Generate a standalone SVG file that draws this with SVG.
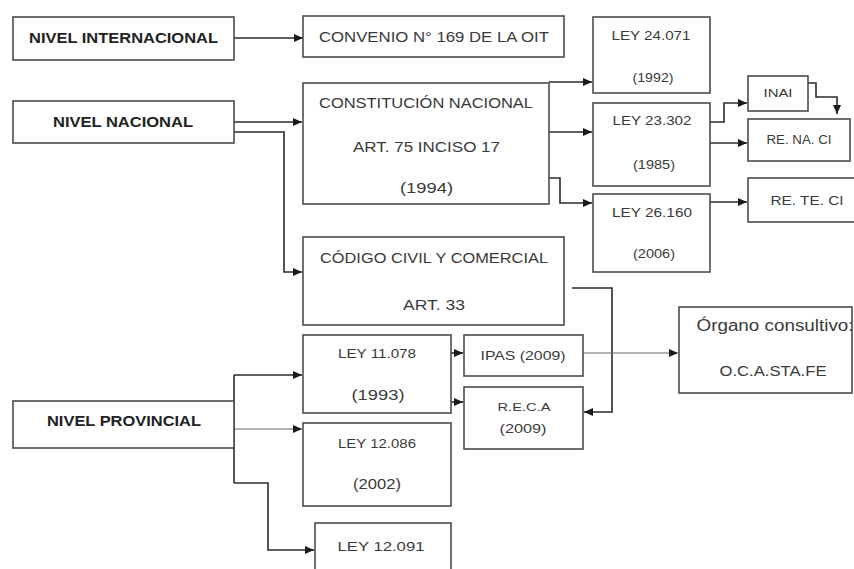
<svg xmlns="http://www.w3.org/2000/svg" width="854" height="569" viewBox="0 0 854 569">
<style>
.box{fill:#fff;stroke:#4d4d4d;stroke-width:1.6}
.t{font-family:"Liberation Sans",Arial,sans-serif;fill:#3a3a3a;text-anchor:middle;font-size:15px}
.b{font-weight:bold;fill:#222}
.s13{font-size:13px}
.c{fill:none;stroke:#2b2b2b;stroke-width:1.6}
.thin{fill:none;stroke:#666;stroke-width:1}
</style>
<defs>
<marker id="a" markerUnits="userSpaceOnUse" markerWidth="10" markerHeight="10" refX="9" refY="5" orient="auto">
<path d="M0,1 L9,5 L0,9 Z" fill="#1a1a1a"/>
</marker>
</defs>
<rect width="854" height="569" fill="#fff"/>
<g id="connectors">
<path class="c" d="M234 38 H303" marker-end="url(#a)"/>
<path class="c" d="M234 122 H302" marker-end="url(#a)"/>
<path class="c" d="M234 132 H284 V272 H302" marker-end="url(#a)"/>
<path class="c" d="M549 82 H592" marker-end="url(#a)"/>
<path class="c" d="M549 132 H592" marker-end="url(#a)"/>
<path class="c" d="M549 178 H560 V203 H592" marker-end="url(#a)"/>
<path class="c" d="M710 122 H724 V103 H747" marker-end="url(#a)"/>
<path class="c" d="M710 143 H747" marker-end="url(#a)"/>
<path class="c" d="M808 83 H816 V97 H837 V114" marker-end="url(#a)"/>
<path class="c" d="M710 202 H747" marker-end="url(#a)"/>
<path class="c" d="M572 288 H612 V412 H584" marker-end="url(#a)"/>
<path class="thin" d="M583 353 H678" marker-end="url(#a)"/>
<path class="c" d="M451 353 H463" marker-end="url(#a)"/>
<path class="c" d="M451 402 H463" marker-end="url(#a)"/>
<path class="c" d="M234 375 H302" marker-end="url(#a)"/>
<path class="c" d="M234 375 V483"/>
<path class="thin" d="M234 429 H302" marker-end="url(#a)"/>
<path class="c" d="M234 483 H268 V550 H314" marker-end="url(#a)"/>
</g>
<g id="nivel-internacional"><rect class="box" x="13" y="17" width="221" height="43"/><text class="t b" x="123.5" y="43" textLength="189" lengthAdjust="spacingAndGlyphs">NIVEL INTERNACIONAL</text></g>
<g id="convenio"><rect class="box" x="303" y="16" width="261" height="41"/><text class="t" x="434" y="42" textLength="230" lengthAdjust="spacingAndGlyphs">CONVENIO N° 169 DE LA OIT</text></g>
<g id="nivel-nacional"><rect class="box" x="13" y="101" width="221" height="42"/><text class="t b" x="123" y="127" textLength="140" lengthAdjust="spacingAndGlyphs">NIVEL NACIONAL</text></g>
<g id="constitucion"><rect class="box" x="303" y="83" width="246" height="121"/>
<text class="t" x="426" y="108" textLength="214" lengthAdjust="spacingAndGlyphs">CONSTITUCIÓN NACIONAL</text>
<text class="t" x="426.5" y="152" textLength="147" lengthAdjust="spacingAndGlyphs">ART. 75 INCISO 17</text>
<text class="t" x="426.5" y="193" textLength="53" lengthAdjust="spacingAndGlyphs">(1994)</text></g>
<g id="ley24071"><rect class="box" x="593" y="17" width="117" height="76"/><text class="t s13" x="651" y="40" textLength="79" lengthAdjust="spacingAndGlyphs">LEY 24.071</text><text class="t s13" x="653" y="82" textLength="41" lengthAdjust="spacingAndGlyphs">(1992)</text></g>
<g id="ley23302"><rect class="box" x="593" y="103" width="117" height="83"/><text class="t s13" x="652" y="125" textLength="79" lengthAdjust="spacingAndGlyphs">LEY 23.302</text><text class="t s13" x="654" y="169" textLength="42" lengthAdjust="spacingAndGlyphs">(1985)</text></g>
<g id="ley26160"><rect class="box" x="593" y="194" width="117" height="78"/><text class="t s13" x="652" y="217" textLength="80" lengthAdjust="spacingAndGlyphs">LEY 26.160</text><text class="t s13" x="654" y="258" textLength="42" lengthAdjust="spacingAndGlyphs">(2006)</text></g>
<g id="inai"><rect class="box" x="748" y="76" width="60" height="35"/><text class="t" style="font-size:11px" x="778" y="97" textLength="29" lengthAdjust="spacingAndGlyphs">INAI</text></g>
<g id="renaci"><rect class="box" x="748" y="119" width="102" height="42"/><text class="t" style="font-size:12px" x="799" y="144" textLength="65" lengthAdjust="spacingAndGlyphs">RE. NA. CI</text></g>
<g id="reteci"><rect class="box" x="748" y="178" width="112" height="44"/><text class="t s13" x="807" y="205" textLength="73" lengthAdjust="spacingAndGlyphs">RE. TE. CI</text></g>
<g id="codigo"><rect class="box" x="303" y="237" width="261" height="88"/>
<text class="t" x="434" y="263" textLength="228" lengthAdjust="spacingAndGlyphs">CÓDIGO CIVIL Y COMERCIAL</text>
<text class="t" x="434" y="310" textLength="62" lengthAdjust="spacingAndGlyphs">ART. 33</text></g>
<g id="ley11078"><rect class="box" x="303" y="335" width="148" height="78"/><text class="t s13" x="377" y="358" textLength="78" lengthAdjust="spacingAndGlyphs">LEY 11.078</text><text class="t" x="378" y="400" textLength="53" lengthAdjust="spacingAndGlyphs">(1993)</text></g>
<g id="ipas"><rect class="box" x="464" y="335" width="119" height="41"/><text class="t s13" x="523" y="360" textLength="85" lengthAdjust="spacingAndGlyphs">IPAS (2009)</text></g>
<g id="reca"><rect class="box" x="464" y="387" width="119" height="62"/><text class="t" style="font-size:10px" x="524" y="411" textLength="53" lengthAdjust="spacingAndGlyphs">R.E.C.A</text><text class="t s13" x="523" y="433" textLength="47" lengthAdjust="spacingAndGlyphs">(2009)</text></g>
<g id="ley12086"><rect class="box" x="303" y="423" width="148" height="83"/><text class="t s13" x="377" y="448" textLength="78" lengthAdjust="spacingAndGlyphs">LEY 12.086</text><text class="t" x="377" y="489" textLength="48" lengthAdjust="spacingAndGlyphs">(2002)</text></g>
<g id="ley12091"><rect class="box" x="315" y="523" width="136" height="60"/><text class="t s13" x="381" y="551" textLength="87" lengthAdjust="spacingAndGlyphs">LEY 12.091</text></g>
<g id="nivel-provincial"><rect class="box" x="13" y="401" width="221" height="47"/><text class="t b" x="124" y="426" textLength="154" lengthAdjust="spacingAndGlyphs">NIVEL PROVINCIAL</text></g>
<g id="organo"><rect class="box" x="679" y="307" width="173" height="86"/>
<text class="t" style="font-size:16px" x="775" y="331" textLength="157" lengthAdjust="spacingAndGlyphs">Órgano consultivo:</text>
<text class="t" x="773" y="376" textLength="107" lengthAdjust="spacingAndGlyphs">O.C.A.STA.FE</text></g>
</svg>
